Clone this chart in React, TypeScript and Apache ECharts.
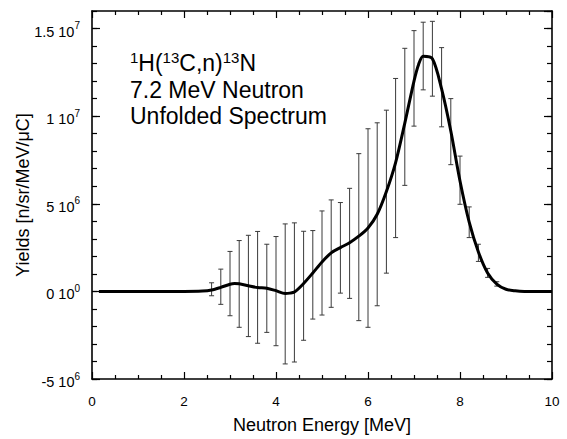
import { useEffect, useRef } from 'react';
import * as echarts from 'echarts';

// Unfolded spectrum curve (energy in MeV, yield in units of 1e6 n/sr/MeV/µC)
const curveEnergy = [0.15, 0.5, 1.0, 1.5, 2.0, 2.4, 2.6, 2.8, 3.0, 3.1, 3.2, 3.4, 3.6, 3.8, 4.0, 4.2, 4.3, 4.4, 4.6, 4.8, 5.0, 5.2, 5.4, 5.6, 5.8, 6.0, 6.2, 6.4, 6.6, 6.8, 7.0, 7.1, 7.2, 7.4, 7.6, 7.8, 8.0, 8.2, 8.4, 8.6, 8.8, 9.0, 9.2, 9.4, 10.0];
const curveYield = [0, 0, 0, 0, 0, 0.02, 0.08, 0.23, 0.41, 0.45, 0.43, 0.32, 0.22, 0.18, 0.04, -0.12, -0.1, -0.04, 0.45, 1.05, 1.68, 2.2, 2.5, 2.78, 3.15, 3.62, 4.4, 5.7, 7.35, 9.6, 12.0, 12.95, 13.42, 13.28, 11.55, 9.15, 6.3, 3.95, 2.25, 1.05, 0.42, 0.12, 0.03, 0, 0];

// Error bars (energy in MeV, low / high in units of 1e6)
const errEnergy = [2.6, 2.8, 3.0, 3.2, 3.4, 3.6, 3.8, 4.0, 4.2, 4.4, 4.6, 4.8, 5.0, 5.2, 5.4, 5.6, 5.8, 6.0, 6.2, 6.4, 6.6, 6.8, 7.0, 7.2, 7.4, 7.6, 7.8, 8.0, 8.2, 8.4, 8.6, 8.8];
const errLow = [-0.25, -0.74, -1.39, -2.05, -2.58, -2.96, -2.34, -3.1, -4.14, -4.03, -2.79, -1.58, -1.35, -0.91, -0.1, -0.4, -1.67, -2.05, -0.82, 1.04, 3.07, 6.05, 9.43, 11.5, 11.14, 9.39, 7.23, 4.97, 3.07, 1.71, 0.8, 0.3];
const errHigh = [0.49, 1.27, 2.28, 2.9, 3.2, 3.42, 2.69, 3.13, 3.85, 3.91, 3.43, 3.47, 4.59, 5.22, 5.07, 5.88, 7.86, 9.28, 9.62, 10.34, 12.15, 13.87, 14.88, 15.36, 15.41, 13.91, 11.0, 7.72, 4.82, 2.69, 1.31, 0.55];

const UNIT = 1e6;
const xMin = 0, xMax = 10, xStep = 2;
const yMin = -5e6, yMax = 1.6e7, yStep = 5e6, yMinorStep = 1e6;

const FONT = '"Liberation Sans", Arial, Helvetica, sans-serif';

function yLabel(v: number): string {
  if (v === 0) return '{m|0 10}{s|0}';
  const exp = Math.floor(Math.log10(Math.abs(v)) + 1e-9);
  const mant = parseFloat((v / Math.pow(10, exp)).toFixed(2));
  return `{m|${mant} 10}{s|${exp}}`;
}

export default function App() {
  const ref = useRef<HTMLDivElement>(null);
  useEffect(() => {
    if (!ref.current) return;
    const chart = echarts.init(ref.current, undefined, { renderer: 'svg' });
    const line = curveEnergy.map((x, i) => [x, curveYield[i] * UNIT]);
    const bars = errEnergy.map((x, i) => [x, errLow[i] * UNIT, errHigh[i] * UNIT]);
    const axisLine = { show: true, onZero: false, lineStyle: { color: '#000', width: 1.6 } };
    const xCommon = {
      type: 'value' as const, min: xMin, max: xMax, interval: xStep,
      axisLine, splitLine: { show: false },
      axisTick: { show: true, inside: true, length: 7, lineStyle: { color: '#000', width: 1.2 } },
      minorTick: { show: true, splitNumber: 4, length: 4, lineStyle: { color: '#000', width: 1.2 } },
      minorSplitLine: { show: false },
    };
    const yMajor = {
      type: 'value' as const, min: yMin, max: yMax, interval: yStep,
      axisLine, splitLine: { show: false },
      axisTick: { show: true, inside: true, length: 8, lineStyle: { color: '#000', width: 1.2 } },
    };
    const yMinor = {
      type: 'value' as const, min: yMin, max: yMax, interval: yMinorStep,
      axisLine: { show: false, onZero: false }, splitLine: { show: false }, axisLabel: { show: false },
      axisTick: { show: true, inside: true, length: 5, lineStyle: { color: '#000', width: 1.2 } },
    };
    chart.setOption({
      animation: false,
      backgroundColor: '#fff',
      grid: { left: 92, right: 15, top: 11, bottom: 58, containLabel: false },
      xAxis: [
        {
          ...xCommon, position: 'bottom',
          name: 'Neutron Energy [MeV]', nameLocation: 'middle', nameGap: 37, nameMoveOverlap: false,
          nameTextStyle: { fontFamily: FONT, fontSize: 18, color: '#000' },
          axisLabel: { show: true, margin: 15, fontFamily: FONT, fontSize: 13.5, color: '#000' },
        },
        { ...xCommon, position: 'top', axisLabel: { show: false } },
      ],
      yAxis: [
        {
          ...yMajor, position: 'left',
          name: 'Yields [n/sr/MeV/\u03BCC]', nameLocation: 'middle', nameGap: 60, nameMoveOverlap: false,
          nameTextStyle: { fontFamily: FONT, fontSize: 18, color: '#000' },
          axisLabel: {
            show: true, margin: 12, showMaxLabel: false, formatter: yLabel,
            padding: [6, 0, 0, 0],
            rich: {
              m: { fontFamily: FONT, fontSize: 14.5, color: '#000', lineHeight: 22 },
              s: { fontFamily: FONT, fontSize: 10, color: '#000', lineHeight: 10, verticalAlign: 'top' },
            },
          },
        },
        { ...yMinor, position: 'left' },
        { ...yMajor, position: 'right', axisLabel: { show: false } },
        { ...yMinor, position: 'right' },
      ],
      graphic: [
        {
          type: 'text', left: 130, top: 50, z: 10,
          style: {
            text: '{s|1}{m|H(}{s|13}{m|C,n)}{s|13}{m|N}',
            rich: {
              m: { fontFamily: FONT, fontSize: 23, lineHeight: 26, fill: '#000' },
              s: { fontFamily: FONT, fontSize: 15, lineHeight: 15, fill: '#000', verticalAlign: 'top' },
            },
          },
        },
        {
          type: 'text', left: 130, top: 78, z: 10,
          style: { text: '7.2 MeV Neutron', fontFamily: FONT, fontSize: 23, fill: '#000' },
        },
        {
          type: 'text', left: 130, top: 104, z: 10,
          style: { text: 'Unfolded Spectrum', fontFamily: FONT, fontSize: 23, fill: '#000' },
        },
      ],
      series: [
        {
          type: 'custom', xAxisIndex: 0, yAxisIndex: 0, z: 2,
          encode: { x: 0, y: [1, 2] },
          data: bars,
          renderItem: (_params: any, api: any) => {
            const x = api.value(0);
            const top = api.coord([x, api.value(2)]);
            const bot = api.coord([x, api.value(1)]);
            const w = 2.5;
            const style = { stroke: '#3a3a3a', lineWidth: 1 };
            return {
              type: 'group',
              children: [
                { type: 'line', shape: { x1: top[0], y1: top[1], x2: bot[0], y2: bot[1] }, style },
                { type: 'line', shape: { x1: top[0] - w, y1: top[1], x2: top[0] + w, y2: top[1] }, style },
                { type: 'line', shape: { x1: bot[0] - w, y1: bot[1], x2: bot[0] + w, y2: bot[1] }, style },
              ],
            };
          },
        },
        {
          type: 'line', xAxisIndex: 0, yAxisIndex: 0, z: 5,
          data: line, showSymbol: false, symbol: 'none', smooth: 0.3,
          lineStyle: { color: '#000', width: 3 },
        },
      ],
    });
    return () => chart.dispose();
  }, []);
  return (
    <div
      ref={ref}
      style={{ position: 'fixed', left: 0, top: 0, width: 567, height: 439, background: '#fff' }}
    />
  );
}
